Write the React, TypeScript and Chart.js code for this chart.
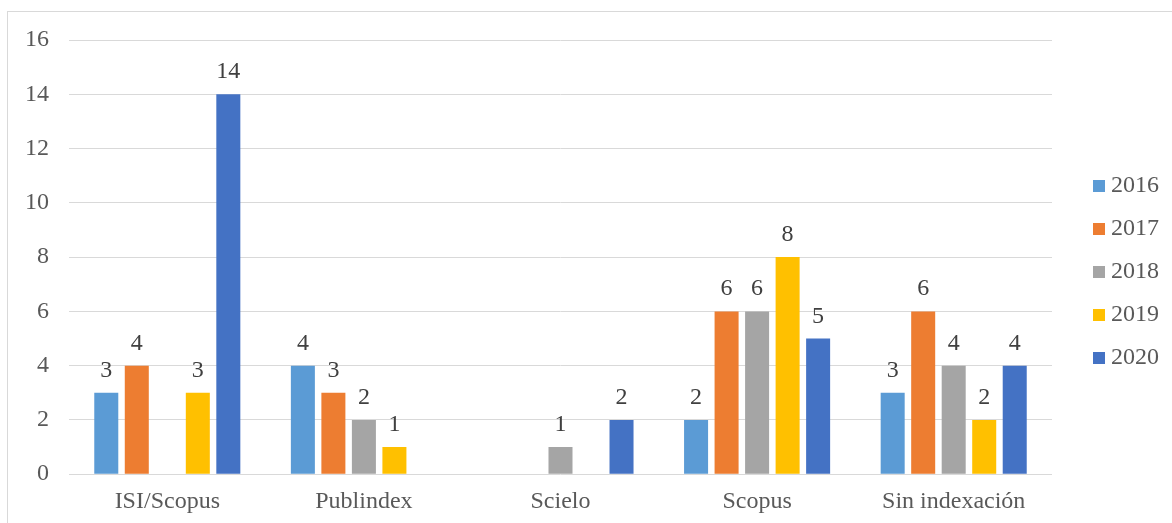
import React, { useEffect, useRef } from "react";
import { Chart, registerables } from "chart.js";

Chart.register(...registerables);

const FONT = "'Liberation Serif', 'Times New Roman', serif";
Chart.defaults.font.family = FONT;

const categories = ["ISI/Scopus", "Publindex", "Scielo", "Scopus", "Sin indexación"];
const seriesNames = ["2016", "2017", "2018", "2019", "2020"];
const values2016 = [3, 4, 0, 2, 3];
const values2017 = [4, 3, 0, 6, 6];
const values2018 = [0, 2, 1, 6, 4];
const values2019 = [3, 1, 0, 8, 2];
const values2020 = [14, 0, 2, 5, 4];
const seriesColors = ["#5B9BD5", "#ED7D31", "#A5A5A5", "#FFC000", "#4472C4"];
const yMin = 0;
const yMax = 16;
const yStep = 2;

const seriesValues = [values2016, values2017, values2018, values2019, values2020];

function makeSwatch(color: string) {
  const c = document.createElement("canvas");
  c.width = 12;
  c.height = 12;
  const g = c.getContext("2d");
  if (g) {
    g.fillStyle = color;
    g.fillRect(0, 0, 12, 12);
  }
  return c;
}

const valueLabels = {
  id: "valueLabels",
  afterDatasetsDraw(chart: any) {
    const ctx = chart.ctx;
    ctx.save();
    ctx.font = `24px ${FONT}`;
    ctx.fillStyle = "#404040";
    ctx.textAlign = "center";
    ctx.textBaseline = "alphabetic";
    chart.data.datasets.forEach((ds: any, i: number) => {
      const meta = chart.getDatasetMeta(i);
      meta.data.forEach((bar: any, j: number) => {
        const v = ds.data[j];
        if (!v) return;
        ctx.fillText(String(v), bar.x, bar.y - 16);
      });
    });
    ctx.restore();
  },
};

export default function App() {
  const canvasRef = useRef<HTMLCanvasElement | null>(null);

  useEffect(() => {
    if (!canvasRef.current) return;
    const swatches = seriesColors.map(makeSwatch);
    const chart = new Chart(canvasRef.current, {
      type: "bar",
      data: {
        labels: categories,
        datasets: seriesNames.map((name, i) => ({
          label: name,
          data: seriesValues[i],
          backgroundColor: seriesColors[i],
          borderWidth: 0,
          categoryPercentage: 0.776,
          barPercentage: 0.787,
        })),
      },
      options: {
        responsive: false,
        animation: false,
        layout: { padding: { left: 5, right: 7, top: 15, bottom: 1 } },
        scales: {
          x: {
            grid: { display: false, drawTicks: false },
            border: { display: false },
            ticks: { color: "#595959", font: { size: 24 }, padding: 13, maxRotation: 0 },
          },
          y: {
            min: yMin,
            max: yMax,
            grid: { color: "#d9d9d9", lineWidth: 1, drawTicks: false },
            border: { display: false },
            ticks: { stepSize: yStep, color: "#595959", font: { size: 24 }, padding: 20 },
          },
          yR: {
            type: "linear",
            position: "right",
            display: true,
            grid: { display: false, drawTicks: false },
            border: { display: false },
            ticks: { display: false },
            afterFit: (s: any) => {
              s.width = 28;
            },
          },
        },
        plugins: {
          tooltip: { enabled: false },
          title: {
            display: true,
            text: " ",
            fullSize: false,
            font: { size: 1, lineHeight: 1 },
            padding: { top: 24, bottom: 0 },
          },
          legend: {
            position: "right",
            maxWidth: 85,
            labels: {
              usePointStyle: true,
              boxWidth: 0.01,
              boxHeight: 12,
              padding: 19,
              color: "#595959",
              font: { size: 24 },
              generateLabels: (c: any) =>
                Chart.defaults.plugins.legend.labels
                  .generateLabels(c)
                  .map((l: any) => ({ ...l, pointStyle: swatches[l.datasetIndex] })),
            },
          },
        },
      } as any,
      plugins: [valueLabels],
    });
    return () => chart.destroy();
  }, []);

  return (
    <div
      style={{
        position: "fixed",
        left: 0,
        top: 0,
        width: 1172,
        height: 523,
        overflow: "hidden",
        background: "#ffffff",
      }}
    >
      <div
        style={{
          position: "absolute",
          left: 7,
          top: 11,
          width: 1300,
          height: 700,
          border: "1px solid #d9d9d9",
        }}
      />
      <canvas
        ref={canvasRef}
        width={1172}
        height={530}
        style={{ position: "absolute", left: 0, top: 0, width: 1172, height: 530 }}
      />
    </div>
  );
}
